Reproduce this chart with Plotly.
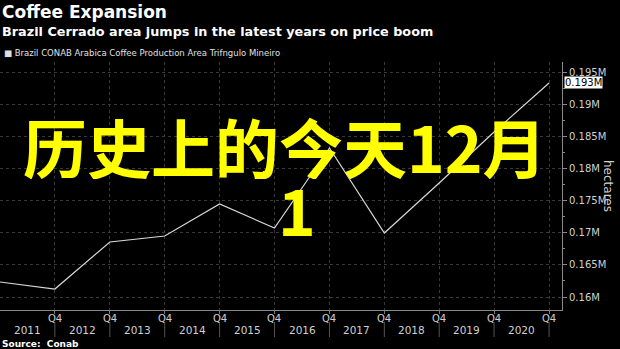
import plotly.graph_objects as go

# Brazil CONAB Arabica coffee production area, Triangulo Mineiro (million hectares)
season_end = ["2010-12-31", "2011-12-31", "2012-12-31", "2013-12-31", "2014-12-31",
              "2015-12-31", "2016-12-31", "2017-12-31", "2018-12-31", "2019-12-31",
              "2020-12-31"]
area_mha = [0.16233, 0.16124, 0.16856, 0.16949, 0.17447, 0.17073,
            0.18318, 0.16996, 0.17773, 0.18567, 0.1933]

year_labels = ["2011", "2012", "2013", "2014", "2015", "2016", "2017", "2018", "2019", "2020"]
year_mid = [f"{y}-07-02" for y in year_labels]
q4_ticks = season_end[1:]

y_ticks = [0.16, 0.165, 0.17, 0.175, 0.18, 0.185, 0.19, 0.195]
y_ticktext = ["0.16M", "0.165M", "0.17M", "0.175M", "0.18M", "0.185M", "0.19M", "0.195M"]

FONT = "DejaVu Sans"
TXT = "#d0d0d0"
GRID = "#3a3a3a"

fig = go.Figure()
fig.add_trace(go.Scatter(
    x=season_end, y=area_mha, mode="lines",
    line=dict(color="#d8d8d8", width=1.2),
    hoverinfo="skip", showlegend=False,
))

fig.update_layout(
    width=620, height=349,
    margin=dict(l=0, r=58, t=62, b=39),
    paper_bgcolor="#000000", plot_bgcolor="#000000",
    font=dict(family=FONT, color=TXT, size=10),
    showlegend=False,
)

fig.update_xaxes(
    type="date",
    range=["2010-12-31", "2021-03-27"],
    tickvals=q4_ticks, showticklabels=False,
    ticks="outside", ticklen=3, tickcolor="#777", tickwidth=1,
    showgrid=True, gridcolor=GRID, griddash="dot", gridwidth=1,
    showline=True, linecolor="#8a8a8a", linewidth=1,
    zeroline=False, fixedrange=True,
)
fig.update_yaxes(
    side="right",
    range=[0.157978, 0.196556],
    tickvals=y_ticks, ticktext=y_ticktext,
    ticks="outside", ticklen=4, tickcolor="#8a8a8a",
    tickfont=dict(family=FONT, size=10, color=TXT),
    showgrid=True, gridcolor=GRID, griddash="dot", gridwidth=1,
    showline=True, linecolor="#8a8a8a", linewidth=1,
    minor=dict(dtick=0.0025, tick0=0.1575, ticks="outside", ticklen=2,
               tickcolor="#8a8a8a", showgrid=False),
    zeroline=False, fixedrange=True,
)

# Quarter labels and year bands under the x axis
for d in q4_ticks:
    fig.add_annotation(x=d, y=0, xref="x", yref="paper", yanchor="middle", yshift=-8,
                       text="Q4", showarrow=False,
                       font=dict(family=FONT, size=10, color=TXT))
    fig.add_shape(type="line", xref="x", yref="paper", x0=d, x1=d,
                  y0=-0.048, y1=-0.109, line=dict(color="#555", width=1))
for d, lbl in zip(year_mid, year_labels):
    fig.add_annotation(x=d, y=0, xref="x", yref="paper", yanchor="middle", yshift=-20,
                       text=lbl, showarrow=False,
                       font=dict(family=FONT, size=10.5, color=TXT))

# Latest value tag on the axis
last = area_mha[-1]
fig.add_annotation(x=1, y=last, xref="paper", yref="y", xanchor="left", xshift=2,
                   text=f"{last:.3f}M", showarrow=False, bgcolor="#ffffff",
                   borderpad=0, font=dict(family=FONT, size=10, color="#000000"))

# Axis title
fig.add_annotation(x=1, y=0.5, xref="paper", yref="paper", xanchor="center", xshift=46,
                   text="hectares", textangle=90, showarrow=False,
                   font=dict(family=FONT, size=12, color=TXT))

# Header
fig.add_annotation(x=0, y=1, xref="paper", yref="paper", xanchor="left", yanchor="top",
                   xshift=0, yshift=62, text="<b>Coffee Expansion</b>", showarrow=False,
                   font=dict(family=FONT, size=17, color="#ffffff"))
fig.add_annotation(x=0, y=1, xref="paper", yref="paper", xanchor="left", yanchor="top",
                   xshift=0, yshift=40, text="<b>Brazil Cerrado area jumps in the latest years on price boom</b>",
                   showarrow=False, font=dict(family=FONT, size=12.8, color="#ffffff"))
fig.add_annotation(x=0, y=1, xref="paper", yref="paper", xanchor="left", yanchor="top",
                   xshift=2, yshift=16, text="■ Brazil CONAB Arabica Coffee Production Area Trifngulo Mineiro",
                   showarrow=False, font=dict(family=FONT, size=8.5, color="#e0e0e0"))

# Footer
fig.add_annotation(x=0, y=0, xref="paper", yref="paper", xanchor="left", yanchor="top",
                   xshift=0, yshift=-27, text="<b>Source:  Conab</b>", showarrow=False,
                   font=dict(family=FONT, size=9, color="#ffffff"))

# Overlay caption: two lines set tighter than the default line spacing,
# each in a box trimmed to its glyph height
fig.add_annotation(x=285 / 562, y=(310 - 145) / 248, xref="paper", yref="paper",
                   showarrow=False, text="历史上的今天12月", height=68,
                   font=dict(family="Noto Sans CJK SC", size=64, color="#ffff00", weight="bold"))
fig.add_annotation(x=297 / 562, y=(310 - 208) / 248, xref="paper", yref="paper",
                   showarrow=False, text="1", height=56,
                   font=dict(family="Noto Sans CJK SC", size=64, color="#ffff00", weight="bold"))

fig.write_html("out.html")
